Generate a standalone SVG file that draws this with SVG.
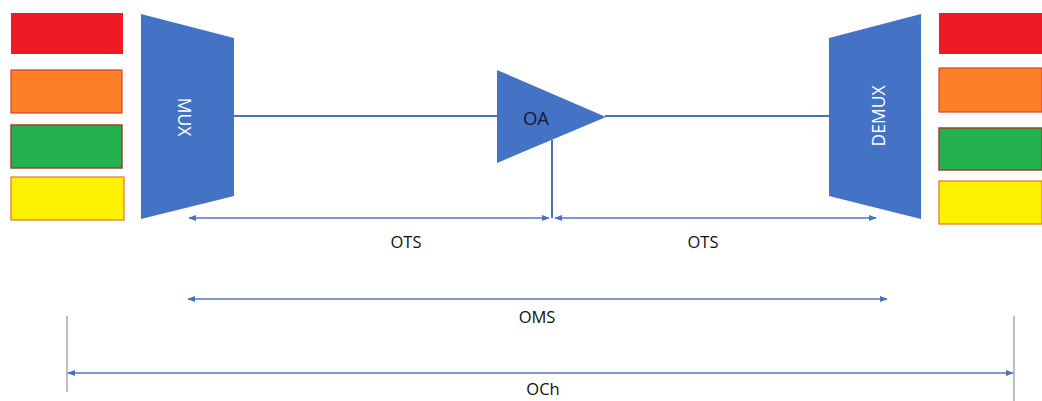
<svg xmlns="http://www.w3.org/2000/svg" width="1042" height="401" viewBox="0 0 1042 401">
  <style>
    .bar-red { fill: #ED1C24; }
    .bar-orange { fill: #FF7F27; stroke: #D0452A; stroke-width: 1.2; }
    .bar-green { fill: #22B14C; stroke: #A0412F; stroke-width: 1.5; }
    .bar-yellow { fill: #FFF200; stroke: #E0782A; stroke-width: 1.2; }
    .dev { fill: #4472C4; }
    .link { stroke: #4A72B8; stroke-width: 2; fill: none; }
    .dim { stroke: #5577B5; stroke-width: 1.6; fill: none; }
    .tick { stroke: #A8A8A8; stroke-width: 1.5; }
    .lbl { font-family: "Open Sans", "Liberation Sans", sans-serif; font-size: 16.5px; fill: #111; text-anchor: middle; }
    .dev-lbl { font-family: "Open Sans", "Liberation Sans", sans-serif; font-size: 17.5px; fill: #FFFFFF; text-anchor: middle; }
  </style>
  <defs>
    <marker id="arr" viewBox="0 0 10 10" refX="9" refY="5" markerWidth="5" markerHeight="5" orient="auto-start-reverse" markerUnits="strokeWidth">
      <path d="M0,1 L10,5 L0,9 Z" fill="#4A72B8"/>
    </marker>
  </defs>
  <rect width="1042" height="401" fill="#FFFFFF"/>

  <!-- input channels -->
  <g id="channels-in">
    <rect class="bar-red" x="11" y="13" width="112" height="41"/>
    <rect class="bar-orange" x="11" y="70" width="111" height="43"/>
    <rect class="bar-green" x="11" y="125" width="111" height="43"/>
    <rect class="bar-yellow" x="11" y="177" width="113" height="43"/>
  </g>

  <!-- output channels -->
  <g id="channels-out">
    <rect class="bar-red" x="939" y="13" width="103" height="41"/>
    <rect class="bar-orange" x="939" y="68" width="103" height="44"/>
    <rect class="bar-green" x="939" y="128" width="103" height="42"/>
    <rect class="bar-yellow" x="939" y="181" width="103" height="43"/>
  </g>

  <!-- links -->
  <g id="connectors">
    <line class="link" x1="234" y1="116" x2="498" y2="116"/>
    <line class="link" x1="605" y1="116" x2="830" y2="116"/>
    <line class="link" x1="552" y1="140" x2="552" y2="218"/>
    <line class="dim" x1="189" y1="218" x2="549" y2="218" marker-start="url(#arr)" marker-end="url(#arr)"/>
    <line class="dim" x1="555" y1="218" x2="876" y2="218" marker-start="url(#arr)" marker-end="url(#arr)"/>
    <line class="dim" x1="188" y1="299" x2="887" y2="299" marker-start="url(#arr)" marker-end="url(#arr)"/>
    <line class="tick" x1="67" y1="316" x2="67" y2="392"/>
    <line class="tick" x1="1014" y1="316" x2="1014" y2="401"/>
    <line class="dim" x1="68" y1="373" x2="1013" y2="373" marker-start="url(#arr)" marker-end="url(#arr)"/>
  </g>

  <g id="mux">
    <polygon class="dev" points="141,14 234,38 234,196 141,219"/>
    <text class="dev-lbl" transform="translate(184,117) rotate(90)" dy="6">MUX</text>
  </g>

  <g id="oa">
    <polygon class="dev" points="497,70 606,117 497,163"/>
    <text class="lbl" x="536" y="125" style="font-size:18.5px; fill:#15193A">OA</text>
  </g>

  <g id="demux">
    <polygon class="dev" points="829,38 921,14 921,219 829,196"/>
    <text class="dev-lbl" transform="translate(879,116) rotate(-90)" dy="6">DEMUX</text>
  </g>

  <g id="labels">
    <text class="lbl" x="406" y="248">OTS</text>
    <text class="lbl" x="703" y="248">OTS</text>
    <text class="lbl" x="537" y="323">OMS</text>
    <text class="lbl" x="543" y="395">OCh</text>
  </g>
</svg>
